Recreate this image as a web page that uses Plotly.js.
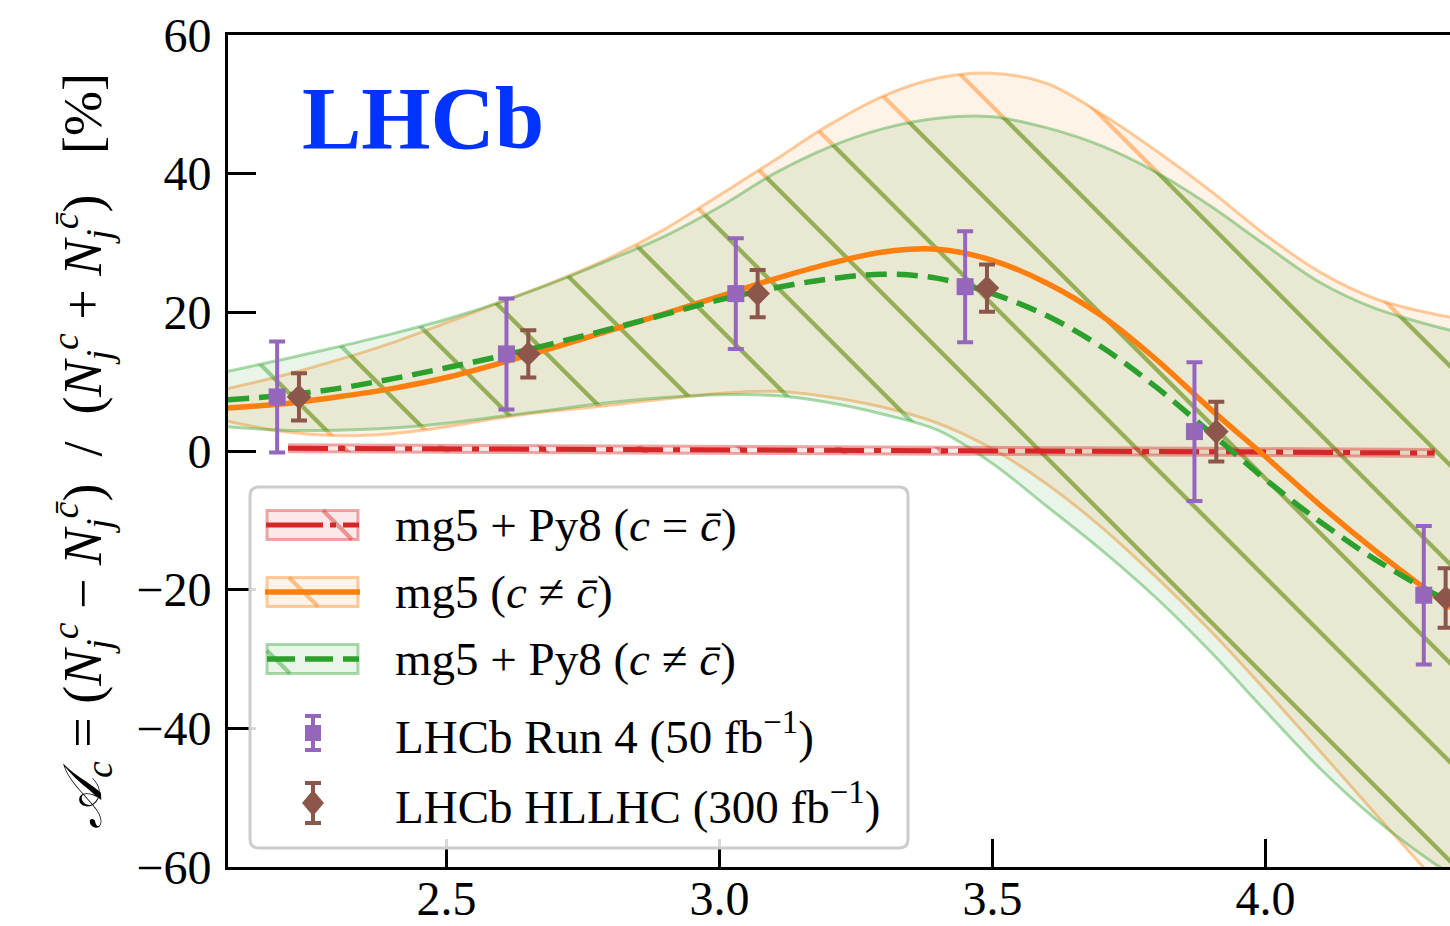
<!DOCTYPE html>
<html><head><meta charset="utf-8">
<script src="https://cdn.plot.ly/plotly-3.0.1.min.js"></script>
<style>html,body{margin:0;padding:0;background:#fff}</style>
</head><body>
<div id="chart" style="width:1450px;height:926px"></div>
<script>
// ---------------- data ----------------
const xGrid        = [2.10, 2.20, 2.30, 2.40, 2.50, 2.60, 2.70, 2.80, 2.90, 3.00, 3.10, 3.20, 3.30, 3.40, 3.50, 3.60, 3.70, 3.80, 3.90, 4.00, 4.10, 4.20, 4.30, 4.34];
// mg5 (c != cbar)
const mg5Central   = [6.2, 6.8, 7.8, 9.0, 10.6, 12.7, 15.0, 17.4, 19.8, 22.3, 24.8, 27.0, 28.7, 29.1, 27.5, 24.2, 19.5, 13.2, 6.0, -0.8, -7.8, -14.3, -20.3, -22.6];
const mg5Upper     = [9.0, 10.9, 13.1, 15.6, 18.5, 21.5, 24.5, 27.9, 32.0, 36.9, 41.9, 47.0, 51.2, 53.8, 54.5, 53.0, 48.6, 43.3, 37.5, 31.2, 25.8, 22.0, 19.9, 19.3];
const mg5Lower     = [4.3, 2.8, 2.2, 2.5, 3.5, 4.8, 5.8, 6.6, 7.5, 8.3, 8.6, 7.8, 6.3, 4.0, 0.3, -4.8, -11.0, -18.2, -26.0, -34.5, -43.3, -52.2, -61.0, -64.5];
// mg5 + Py8 (c != cbar)
const py8Central   = [7.4, 8.0, 9.0, 10.4, 12.0, 13.7, 15.6, 17.6, 19.7, 21.8, 23.5, 24.8, 25.5, 24.9, 22.7, 19.5, 15.0, 9.2, 2.6, -4.1, -10.2, -15.6, -20.2, -21.8];
const py8Upper     = [11.5, 13.2, 15.0, 16.9, 19.0, 21.5, 24.4, 27.6, 31.0, 35.2, 40.0, 43.8, 46.5, 48.0, 48.2, 46.6, 44.0, 40.2, 35.3, 29.7, 24.3, 20.6, 18.2, 17.4];
const py8Lower     = [3.5, 3.0, 3.0, 3.3, 4.0, 5.0, 6.0, 7.0, 7.7, 8.1, 8.0, 7.0, 5.3, 3.0, -1.8, -8.0, -14.3, -21.2, -29.0, -37.5, -45.8, -53.0, -59.0, -61.0];
// mg5 + Py8 (c = cbar), at bin centres
const binCenters   = [2.21, 2.63, 3.05, 3.47, 3.89, 4.31];
const eqCentral    = [0.4, 0.3, 0.2, 0.05, -0.1, -0.3];
const eqUpper      = [0.9, 0.8, 0.7, 0.55, 0.4, 0.2];
const eqLower      = [-0.1, -0.2, -0.3, -0.45, -0.6, -0.8];
// LHCb projections
const run4Values   = [7.8, 14.0, 22.7, 23.7, 2.8, -20.8];
const run4Errors   = [8.0, 8.0, 8.0, 8.0, 10.0, 10.0];
const hllhcValues  = [7.8, 14.0, 22.7, 23.5, 2.8, -21.2];
const hllhcErrors  = [3.4, 3.4, 3.4, 3.4, 4.3, 4.3];
// labels
const legendLabels = [
  'mg5 + Py8 (<i>c</i> = <i>c̄</i>)',
  'mg5 (<i>c</i> ≠ <i>c̄</i>)',
  'mg5 + Py8 (<i>c</i> ≠ <i>c̄</i>)',
  'LHCb Run 4 (50 fb<sup>−1</sup>)',
  'LHCb HLLHC (300 fb<sup>−1</sup>)'
];
const xTickVals = [2.5, 3.0, 3.5, 4.0];
const xTickText = ['2.5', '3.0', '3.5', '4.0'];
const yTickVals = [-60, -40, -20, 0, 20, 40, 60];
const yTickText = ['−60', '−40', '−20', '0', '20', '40', '60'];
const yTitle = '<i>𝒜</i><sub><i>c</i></sub> = (<i>N</i><sub><i>j</i></sub><sup><i>c</i></sup> − <i>N</i><sub><i>j</i></sub><sup><i>c̄</i></sup>)  /  (<i>N</i><sub><i>j</i></sub><sup><i>c</i></sup> + <i>N</i><sub><i>j</i></sub><sup><i>c̄</i></sup>)   [%]';

// ---------------- style ----------------
const FONT = 'Liberation Serif, DejaVu Serif, serif';
const RED = '#d62728', ORANGE = '#ff7f0e', GREEN = '#2ca02c', PURPLE = '#9467bd', BROWN = '#8c564b';
const dodge = 0.02;
function rgba(hex, a) {
  const n = parseInt(hex.slice(1), 16);
  return `rgba(${(n >> 16) & 255},${(n >> 8) & 255},${n & 255},${a})`;
}
function hatch(col) {
  return {shape: '\\', size: 70, solidity: 0.06, fgcolor: col, fgopacity: 0.45, bgcolor: rgba(col, 0.1), fillmode: 'replace'};
}
function band(x, lo, hi, col, spline) {
  const shape = spline ? 'spline' : 'linear';
  return [
    {x: x, y: lo, type: 'scatter', mode: 'lines', line: {color: rgba(col, 0.4), width: 3, shape: shape}, hoverinfo: 'skip', showlegend: false},
    {x: x, y: hi, type: 'scatter', mode: 'lines', fill: 'tonexty', fillcolor: rgba(col, 0.1), fillpattern: hatch(col),
     line: {color: rgba(col, 0.4), width: 3, shape: shape}, hoverinfo: 'skip', showlegend: false}
  ];
}

const traces = [].concat(
  band(xGrid, mg5Lower, mg5Upper, ORANGE, true),
  band(xGrid, py8Lower, py8Upper, GREEN, true),
  band(binCenters, eqLower, eqUpper, RED, false),
  [
    {x: binCenters, y: eqCentral, type: 'scatter', mode: 'lines', name: 'eq',
     line: {color: RED, width: 5, dash: '40px,10px,7px,10px'}, showlegend: false},
    {x: xGrid, y: mg5Central, type: 'scatter', mode: 'lines', name: 'mg5',
     line: {color: ORANGE, width: 5.5, shape: 'spline'}, showlegend: false},
    {x: xGrid, y: py8Central, type: 'scatter', mode: 'lines', name: 'py8',
     line: {color: GREEN, width: 5.5, shape: 'spline', dash: '21px,10px'}, showlegend: false},
    {x: binCenters.map(v => v - dodge), y: run4Values, type: 'scatter', mode: 'markers', name: 'Run 4',
     marker: {symbol: 'square', size: 17, color: PURPLE},
     error_y: {type: 'data', array: run4Errors, visible: true, color: PURPLE, thickness: 4, width: 8},
     showlegend: false},
    {x: binCenters.map(v => v + dodge), y: hllhcValues, type: 'scatter', mode: 'markers', name: 'HLLHC',
     marker: {symbol: 'diamond', size: 19, color: BROWN},
     error_y: {type: 'data', array: hllhcErrors, visible: true, color: BROWN, thickness: 4, width: 8},
     showlegend: false}
  ]
);

// ---------------- hand-drawn legend (paper coords) ----------------
const PL = 228, PT = 35, PW = 1222, PH = 832;
const px = v => (v - PL) / PW;
const py = v => (PT + PH - v) / PH;
function roundRectPath(x0, y0, x1, y1, r) {
  const P = (x, y) => px(x) + ',' + py(y);
  return 'M' + P(x0 + r, y0) + ' L' + P(x1 - r, y0) + ' Q' + P(x1, y0) + ' ' + P(x1, y0 + r) +
         ' L' + P(x1, y1 - r) + ' Q' + P(x1, y1) + ' ' + P(x1 - r, y1) +
         ' L' + P(x0 + r, y1) + ' Q' + P(x0, y1) + ' ' + P(x0, y1 - r) +
         ' L' + P(x0, y0 + r) + ' Q' + P(x0, y0) + ' ' + P(x0 + r, y0) + ' Z';
}
const rowsY = [525, 592, 659, 733, 803];
const boxX0 = 267, boxX1 = 358, boxH = 29;
const shapes = [];
const P = (o) => Object.assign({xref: 'paper', yref: 'paper', layer: 'above'}, o);
shapes.push(P({type: 'path', path: roundRectPath(250, 487, 908, 848, 9),
  fillcolor: 'rgba(255,255,255,0.85)', line: {color: '#cccccc', width: 3}}));
const bandCols = [RED, ORANGE, GREEN];
const hatchSeg = [[323, 352, 0, 29], [289, 318, 0, 29], [267, 290, 6, 29]];
bandCols.forEach((c, i) => {
  const yc = rowsY[i];
  const y0 = yc - boxH / 2, y1 = yc + boxH / 2;
  shapes.push(P({type: 'rect', x0: px(boxX0), x1: px(boxX1), y0: py(y0), y1: py(y1),
    fillcolor: rgba(c, 0.1), line: {color: rgba(c, 0.4), width: 3}}));
  const h = hatchSeg[i];
  shapes.push(P({type: 'line', x0: px(h[0]), x1: px(h[1]), y0: py(y0 + h[2]), y1: py(y0 + h[3]),
    line: {color: rgba(c, 0.45), width: 4}}));
});
shapes.push(P({type: 'line', x0: px(266), x1: px(359), y0: py(rowsY[0]), y1: py(rowsY[0]),
  line: {color: RED, width: 5, dash: '57px,7px,6px,7px'}}));
shapes.push(P({type: 'line', x0: px(265), x1: px(360), y0: py(rowsY[1]), y1: py(rowsY[1]),
  line: {color: ORANGE, width: 5.5}}));
shapes.push(P({type: 'line', x0: px(267), x1: px(359), y0: py(rowsY[2]), y1: py(rowsY[2]),
  line: {color: GREEN, width: 5.5, dash: '28px,10px'}}));
// error-bar legend glyphs
function errGlyph(yc, half, col) {
  shapes.push(P({type: 'line', x0: px(313), x1: px(313), y0: py(yc - half), y1: py(yc + half), line: {color: col, width: 4}}));
  shapes.push(P({type: 'line', x0: px(305), x1: px(321), y0: py(yc - half), y1: py(yc - half), line: {color: col, width: 4}}));
  shapes.push(P({type: 'line', x0: px(305), x1: px(321), y0: py(yc + half), y1: py(yc + half), line: {color: col, width: 4}}));
}
errGlyph(rowsY[3], 17, PURPLE);
shapes.push(P({type: 'rect', x0: px(305), x1: px(321), y0: py(rowsY[3] - 8), y1: py(rowsY[3] + 8), fillcolor: PURPLE, line: {width: 0}}));
errGlyph(rowsY[4], 20, BROWN);
shapes.push(P({type: 'path', path: 'M' + px(313) + ',' + py(rowsY[4] - 13) + ' L' + px(324) + ',' + py(rowsY[4]) +
  ' L' + px(313) + ',' + py(rowsY[4] + 13) + ' L' + px(302) + ',' + py(rowsY[4]) + ' Z', fillcolor: BROWN, line: {width: 0}}));

const annotations = legendLabels.map((t, i) => ({
  xref: 'paper', yref: 'paper', x: px(393), y: py(rowsY[i]), xanchor: 'left', yanchor: 'middle',
  text: t, showarrow: false, font: {family: FONT, size: 47, color: '#000'}
}));
annotations.push({xref: 'paper', yref: 'paper', x: px(300), y: py(118), xanchor: 'left', yanchor: 'middle',
  text: '<b>LHCb</b>', showarrow: false, font: {family: FONT, size: 89, color: '#0033ff'}});

const axisCommon = {
  ticks: 'inside', ticklen: 28, tickwidth: 3, tickcolor: '#000',
  showline: true, linewidth: 3, linecolor: '#000', showgrid: false, zeroline: false,
  tickfont: {family: FONT, size: 48, color: '#000'}
};
const layout = {
  width: 1450, height: 926,
  margin: {l: PL, r: 0, t: PT, b: 926 - PT - PH, pad: 0},
  paper_bgcolor: '#fff', plot_bgcolor: '#fff',
  showlegend: false,
  xaxis: Object.assign({}, axisCommon, {range: [2.1, 4.338], tickmode: 'array', tickvals: xTickVals, ticktext: xTickText,
    mirror: true, ticklabelstandoff: -13}),
  yaxis: Object.assign({}, axisCommon, {range: [-60, 60], tickmode: 'array', tickvals: yTickVals, ticktext: yTickText,
    ticklabelstandoff: 4,
    title: {text: yTitle, font: {family: FONT, size: 54, color: '#000'}, standoff: 18}}),
  shapes: shapes,
  annotations: annotations
};
Plotly.newPlot('chart', traces, layout, {displayModeBar: false, staticPlot: true});
</script>
</body></html>
